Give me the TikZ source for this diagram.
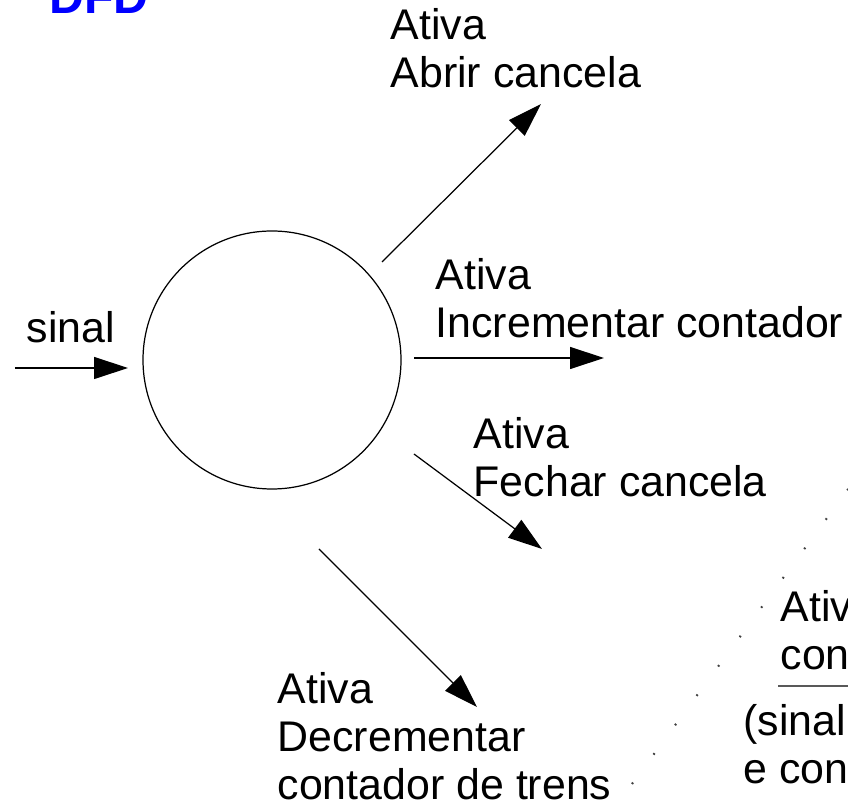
\documentclass[tikz,border=0pt]{standalone}
\usepackage{fontspec}
\setmainfont{Liberation Sans}
\usepackage{tikz}
\usetikzlibrary{arrows.meta, positioning}
\definecolor{dfdblue}{RGB}{0,0,255}
\tikzstyle{txt} = [anchor=base west, inner sep=0, align=left, font=\fontsize{12.2}{13.7}\selectfont]
\tikzstyle{title} = [anchor=base west, inner sep=0, text=dfdblue, font=\fontsize{13.7}{16}\selectfont\bfseries]
\tikzstyle{process} = [circle, draw=black, line width=0.35pt, minimum size=2.58cm, inner sep=0]
\tikzstyle{flow} = [line width=0.35pt, -{Triangle[length=0.34cm, width=0.22cm]}]
\tikzstyle{dots} = [line width=0.6pt, black!75, dash pattern=on 0.5pt off 9.86pt]

\begin{document}
\begin{tikzpicture}
	\useasboundingbox (0, 0) rectangle (8.48, -8.06);

	\node (Title) [title] at (0.49, -0.14) {DFD};

	% the process
	\node (Proc) [process] at (2.72, -3.60) {};

	% input
	\node (Sinal) [txt] at (0.26, -3.43) {sinal};
	\coordinate (SinalIn) at (0.15, -3.68);
	\coordinate (SinalOut) at (1.28, -3.68);
	\draw [flow] (SinalIn) -- (SinalOut);

	% abrir cancela
	\coordinate (AbrirIn) at (3.82, -2.62);
	\coordinate (AbrirOut) at (5.41, -1.04);
	\draw [flow] (AbrirIn) -- (AbrirOut);
	\node (Abrir) [txt] at (3.90, -0.88) {Ativa\\Abrir cancela};

	% incrementar contador
	\coordinate (IncIn) at (4.14, -3.58);
	\coordinate (IncOut) at (6.04, -3.58);
	\draw [flow] (IncIn) -- (IncOut);
	\node (Inc) [txt] at (4.35, -3.38) {Ativa\\Incrementar contador};

	% fechar cancela
	\coordinate (FecharIn) at (4.14, -4.54);
	\coordinate (FecharOut) at (5.42, -5.49);
	\draw [flow] (FecharIn) -- (FecharOut);
	\node (Fechar) [txt] at (4.73, -4.97) {Ativa\\Fechar cancela};

	% decrementar contador
	\coordinate (DecIn) at (3.19, -5.49);
	\coordinate (DecOut) at (4.77, -7.07);
	\draw [flow] (DecIn) -- (DecOut);
	\node (Dec) [txt] at (2.77, -8.00) {Ativa\\Decrementar\\contador de trens};

	% right border
	\coordinate (DotsIn) at (6.32, -7.84);
	\coordinate (DotsOut) at (8.49, -4.88);
	\draw [dots] (DotsIn) -- (DotsOut);

	\node (Cont) [txt] at (7.80, -6.70) {Ativ\\con};
	\coordinate (BarIn) at (7.78, -6.86);
	\coordinate (BarOut) at (8.48, -6.86);
	\draw [line width=0.45pt, black!65] (BarIn) -- (BarOut);
	\node (Cond) [txt] at (7.43, -7.84) {(sinal\\e con};
\end{tikzpicture}
\end{document}
